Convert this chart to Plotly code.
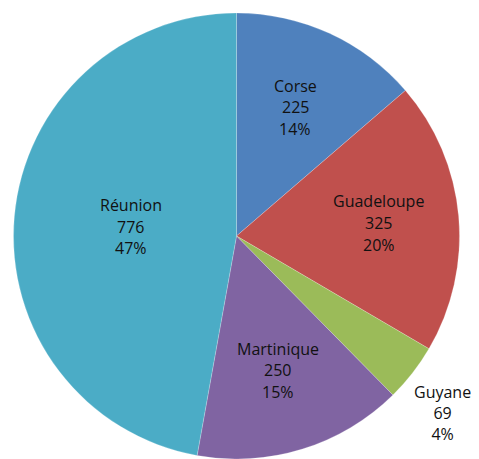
import math
import plotly.graph_objects as go

labels = ["Corse", "Guadeloupe", "Guyane", "Martinique", "Réunion"]
values = [225, 325, 69, 250, 776]
colors = ["#4F81BD", "#C0504D", "#9BBB59", "#8064A2", "#4BACC6"]
# label placement (style): inside labels centred at a fraction of the radius,
# outside labels anchored by their top-left corner just past the rim
label_outside = [False, False, True, False, False]
label_radius_frac = [0.635, 0.64, 1.03, 0.63, 0.475]

# page has an 8px body margin, so the figure is a bit smaller than the window
W, H = 463, 451
dom_x = [2.5 / W, 454.5 / W]
dom_y = [0.0, 1 - 5 / H]
LINE_PX = 21.7
FONT = dict(family="Open Sans", size=16, color="#111111")

fig = go.Figure(go.Pie(
    labels=labels,
    values=values,
    sort=False,
    direction="clockwise",
    rotation=0,
    marker=dict(colors=colors, line=dict(color="rgba(255,255,255,0.35)", width=0.6)),
    textinfo="none",
    hoverinfo="skip",
    showlegend=False,
    domain=dict(x=dom_x, y=dom_y),
))

# label positions derived from the slice angles
total = sum(values)
cx_px = (dom_x[0] + dom_x[1]) / 2 * W
cy_px = (1 - (dom_y[0] + dom_y[1]) / 2) * H
r_px = min((dom_x[1] - dom_x[0]) * W, (dom_y[1] - dom_y[0]) * H) / 2

cum = 0
for lab, val, frac, outside in zip(labels, values, label_radius_frac, label_outside):
    mid = (cum + val / 2) / total * 2 * math.pi
    cum += val
    px = cx_px + frac * r_px * math.sin(mid)
    py = cy_px - frac * r_px * math.cos(mid)
    pct = round(100 * val / total)
    lines = [lab, str(val), f"{pct}%"]
    if outside:
        fig.add_annotation(
            x=px / W, y=1 - py / H, xref="paper", yref="paper",
            text="<br>".join(lines),
            showarrow=False, xanchor="left", yanchor="top",
            xshift=-6, yshift=-2,
            align="center", font=FONT,
        )
    else:
        for k, line in enumerate(lines):
            ly = py + (k - 1) * LINE_PX
            fig.add_annotation(
                x=px / W, y=1 - ly / H, xref="paper", yref="paper",
                text=line,
                showarrow=False, xanchor="center", yanchor="middle",
                align="center", font=FONT,
            )

fig.update_layout(
    width=W, height=H,
    margin=dict(l=0, r=0, t=0, b=0),
    paper_bgcolor="white",
    plot_bgcolor="white",
)

fig.write_html("out.html")
